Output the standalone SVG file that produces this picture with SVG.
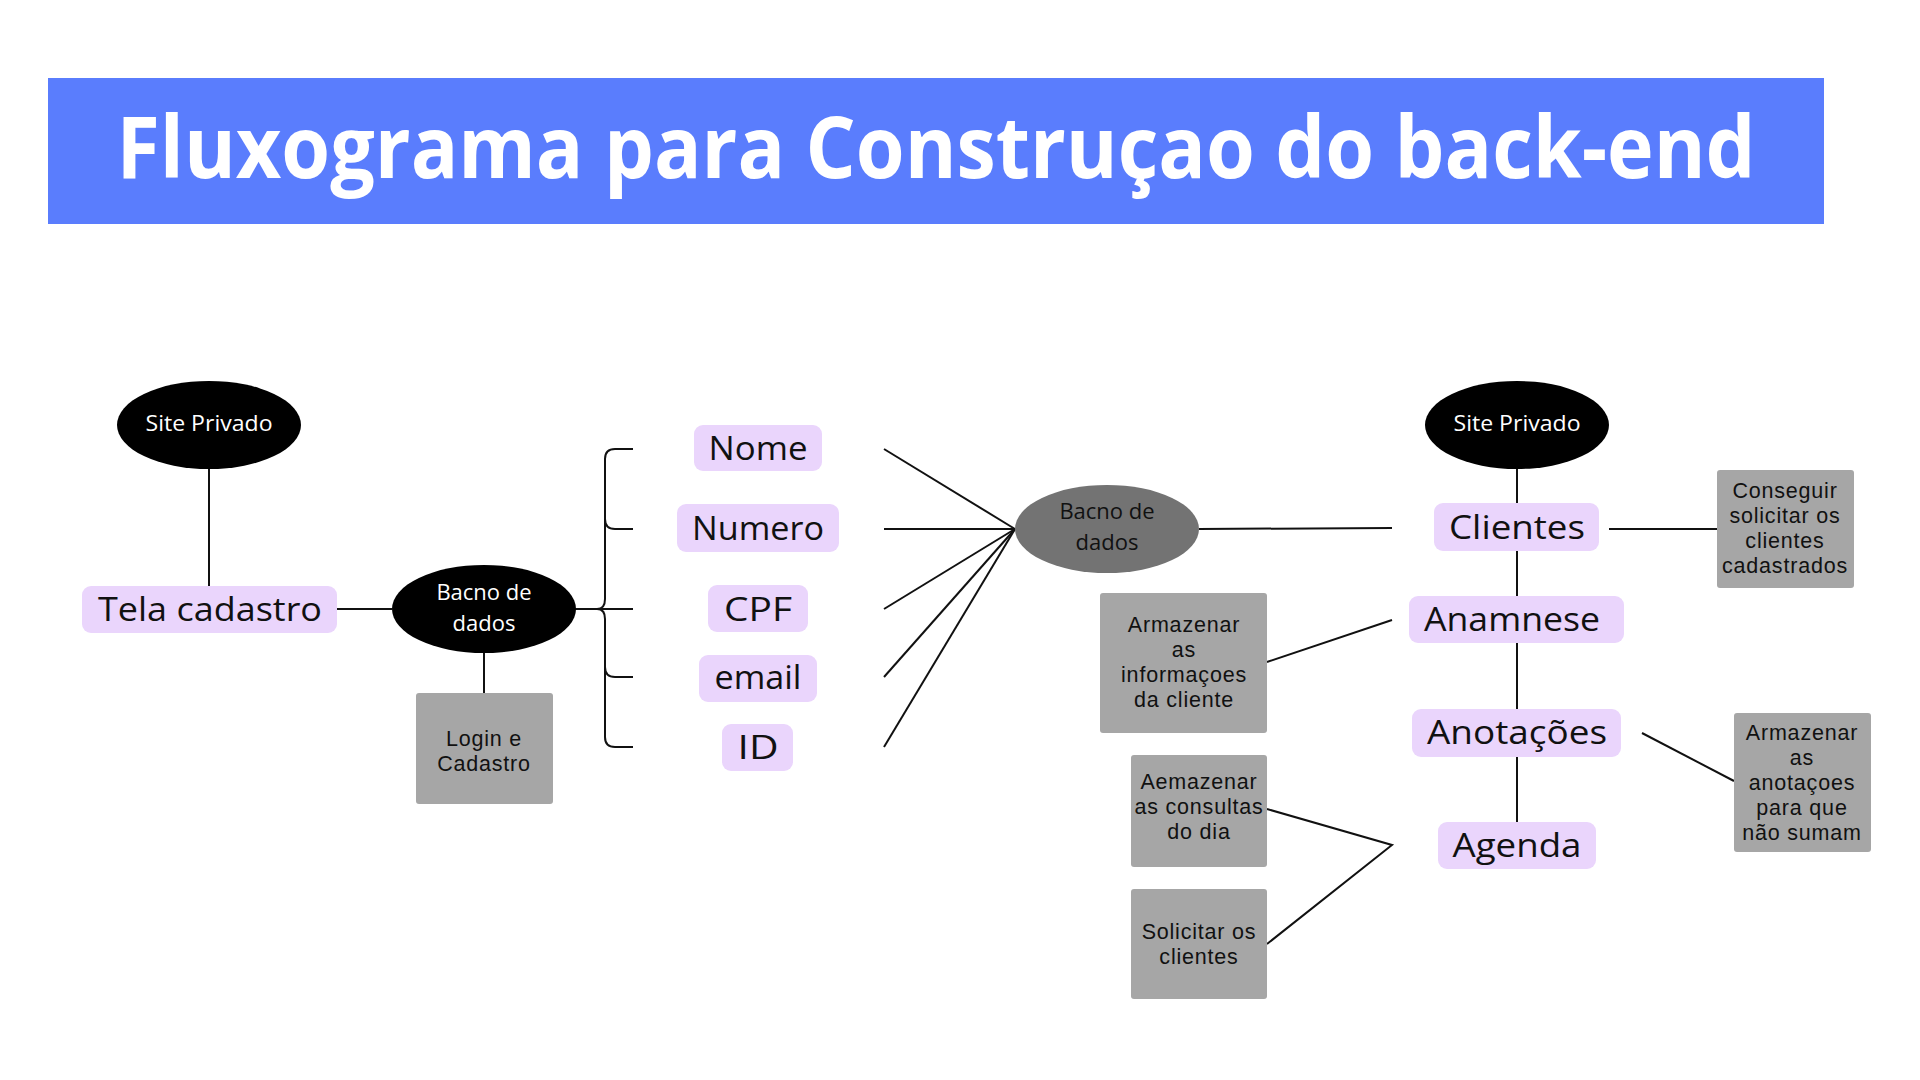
<svg xmlns="http://www.w3.org/2000/svg" width="1920" height="1080" viewBox="0 0 1920 1080">
<style>
.lav{fill:#EAD5FC}
.box{fill:#A6A6A6}
.lbl{font-family:"Open Sans","Liberation Sans",sans-serif;font-size:33px;fill:#111;text-anchor:middle}
.ov{font-family:"Open Sans","Liberation Sans",sans-serif;font-size:22px;fill:#fff;text-anchor:middle}
.ovd{font-family:"Open Sans","Liberation Sans",sans-serif;font-size:22px;fill:#111;text-anchor:middle}
.gt{font-family:"Liberation Sans",Arial,sans-serif;font-size:21.5px;letter-spacing:0.8px;fill:#111;text-anchor:middle}
.ln{stroke:#111;stroke-width:2;fill:none}
</style>
<rect width="1920" height="1080" fill="#fff"/>
<g id="title">
<rect x="48" y="78" width="1776" height="146" fill="#5A7DFD"/>
<text x="936" y="178" font-family="Open Sans, Liberation Sans, sans-serif" font-weight="bold" font-size="86" fill="#fff" text-anchor="middle" textLength="1639" lengthAdjust="spacingAndGlyphs">Fluxograma para Construçao do back-end</text>
</g>
<g id="connectors">
<line class="ln" x1="209" y1="469" x2="209" y2="586"/>
<line class="ln" x1="337" y1="609" x2="392" y2="609"/>
<line class="ln" x1="484" y1="653" x2="484" y2="693"/>
<path class="ln" d="M633,449 H615 Q605,449 605,459 V599 Q605,609 597,609 Q605,609 605,619 V737 Q605,747 615,747 H633"/>
<path class="ln" d="M605,519 Q605,529 615,529 H633"/>
<path class="ln" d="M605,667 Q605,677 615,677 H633"/>
<line class="ln" x1="575" y1="609" x2="633" y2="609"/>
<line class="ln" x1="884" y1="449" x2="1015" y2="529"/>
<line class="ln" x1="884" y1="529" x2="1015" y2="529"/>
<line class="ln" x1="884" y1="609" x2="1015" y2="529"/>
<line class="ln" x1="884" y1="677" x2="1015" y2="529"/>
<line class="ln" x1="884" y1="747" x2="1015" y2="529"/>
<line class="ln" x1="1199" y1="529" x2="1392" y2="528"/>
<line class="ln" x1="1517" y1="469" x2="1517" y2="503"/>
<line class="ln" x1="1517" y1="551" x2="1517" y2="596"/>
<line class="ln" x1="1517" y1="643" x2="1517" y2="709"/>
<line class="ln" x1="1517" y1="757" x2="1517" y2="822"/>
<line class="ln" x1="1609" y1="529" x2="1717" y2="529"/>
<line class="ln" x1="1267" y1="662" x2="1392" y2="620"/>
<polyline class="ln" points="1267,809 1392,845 1267,944"/>
<line class="ln" x1="1642" y1="733" x2="1734" y2="781"/>
</g>
<g id="site-privado-1">
<ellipse cx="209" cy="425" rx="92" ry="44" fill="#000"/>
<text class="ov" x="209" y="431" textLength="127" lengthAdjust="spacingAndGlyphs">Site Privado</text>
</g>
<g id="tela-cadastro">
<rect class="lav" x="82" y="586" width="255" height="47" rx="9"/>
<text class="lbl" x="210" y="621" textLength="224" lengthAdjust="spacingAndGlyphs">Tela cadastro</text>
</g>
<g id="banco-1">
<ellipse cx="484" cy="609" rx="92" ry="44" fill="#000"/>
<text class="ov" x="484" y="600">Bacno de</text>
<text class="ov" x="484" y="631">dados</text>
</g>
<g id="login">
<rect class="box" x="416" y="693" width="137" height="111" rx="3"/>
<text class="gt" x="484" y="746">Login e</text>
<text class="gt" x="484" y="771">Cadastro</text>
</g>
<g id="nome">
<rect class="lav" x="694" y="425" width="128" height="46" rx="9"/>
<text class="lbl" x="758" y="460" textLength="99" lengthAdjust="spacingAndGlyphs">Nome</text>
</g>
<g id="numero">
<rect class="lav" x="677" y="504" width="162" height="48" rx="9"/>
<text class="lbl" x="758" y="540" textLength="132" lengthAdjust="spacingAndGlyphs">Numero</text>
</g>
<g id="cpf">
<rect class="lav" x="708" y="585" width="100" height="47" rx="9"/>
<text class="lbl" x="758" y="621" textLength="68" lengthAdjust="spacingAndGlyphs">CPF</text>
</g>
<g id="email">
<rect class="lav" x="699" y="655" width="118" height="47" rx="9"/>
<text class="lbl" x="758" y="689" textLength="87" lengthAdjust="spacingAndGlyphs">email</text>
</g>
<g id="id">
<rect class="lav" x="722" y="724" width="71" height="47" rx="9"/>
<text class="lbl" x="758" y="759" textLength="41" lengthAdjust="spacingAndGlyphs">ID</text>
</g>
<g id="banco-2">
<ellipse cx="1107" cy="529" rx="92" ry="44" fill="#737373"/>
<text class="ovd" x="1107" y="519">Bacno de</text>
<text class="ovd" x="1107" y="550">dados</text>
</g>
<g id="site-privado-2">
<ellipse cx="1517" cy="425" rx="92" ry="44" fill="#000"/>
<text class="ov" x="1517" y="431" textLength="127" lengthAdjust="spacingAndGlyphs">Site Privado</text>
</g>
<g id="clientes">
<rect class="lav" x="1434" y="503" width="165" height="48" rx="9"/>
<text class="lbl" x="1517" y="539" textLength="136" lengthAdjust="spacingAndGlyphs">Clientes</text>
</g>
<g id="anamnese">
<rect class="lav" x="1409" y="596" width="215" height="47" rx="9"/>
<text class="lbl" x="1512" y="631" textLength="176" lengthAdjust="spacingAndGlyphs">Anamnese</text>
</g>
<g id="anotacoes">
<rect class="lav" x="1412" y="709" width="209" height="48" rx="9"/>
<text class="lbl" x="1517" y="744" textLength="180" lengthAdjust="spacingAndGlyphs">Anotações</text>
</g>
<g id="agenda">
<rect class="lav" x="1438" y="822" width="158" height="47" rx="9"/>
<text class="lbl" x="1517" y="857" textLength="129" lengthAdjust="spacingAndGlyphs">Agenda</text>
</g>
<g id="conseguir">
<rect class="box" x="1717" y="470" width="137" height="118" rx="3"/>
<text class="gt" x="1785" y="498">Conseguir</text>
<text class="gt" x="1785" y="523">solicitar os</text>
<text class="gt" x="1785" y="548">clientes</text>
<text class="gt" x="1785" y="573">cadastrados</text>
</g>
<g id="armazenar-info">
<rect class="box" x="1100" y="593" width="167" height="140" rx="3"/>
<text class="gt" x="1184" y="632">Armazenar</text>
<text class="gt" x="1184" y="657">as</text>
<text class="gt" x="1184" y="682">informaçoes</text>
<text class="gt" x="1184" y="707">da cliente</text>
</g>
<g id="aemazenar-consultas">
<rect class="box" x="1131" y="755" width="136" height="112" rx="3"/>
<text class="gt" x="1199" y="789">Aemazenar</text>
<text class="gt" x="1199" y="814">as consultas</text>
<text class="gt" x="1199" y="839">do dia</text>
</g>
<g id="solicitar-clientes">
<rect class="box" x="1131" y="889" width="136" height="110" rx="3"/>
<text class="gt" x="1199" y="939">Solicitar os</text>
<text class="gt" x="1199" y="964">clientes</text>
</g>
<g id="armazenar-anotacoes">
<rect class="box" x="1734" y="713" width="137" height="139" rx="3"/>
<text class="gt" x="1802" y="740">Armazenar</text>
<text class="gt" x="1802" y="765">as</text>
<text class="gt" x="1802" y="790">anotaçoes</text>
<text class="gt" x="1802" y="815">para que</text>
<text class="gt" x="1802" y="840">não sumam</text>
</g>
</svg>
